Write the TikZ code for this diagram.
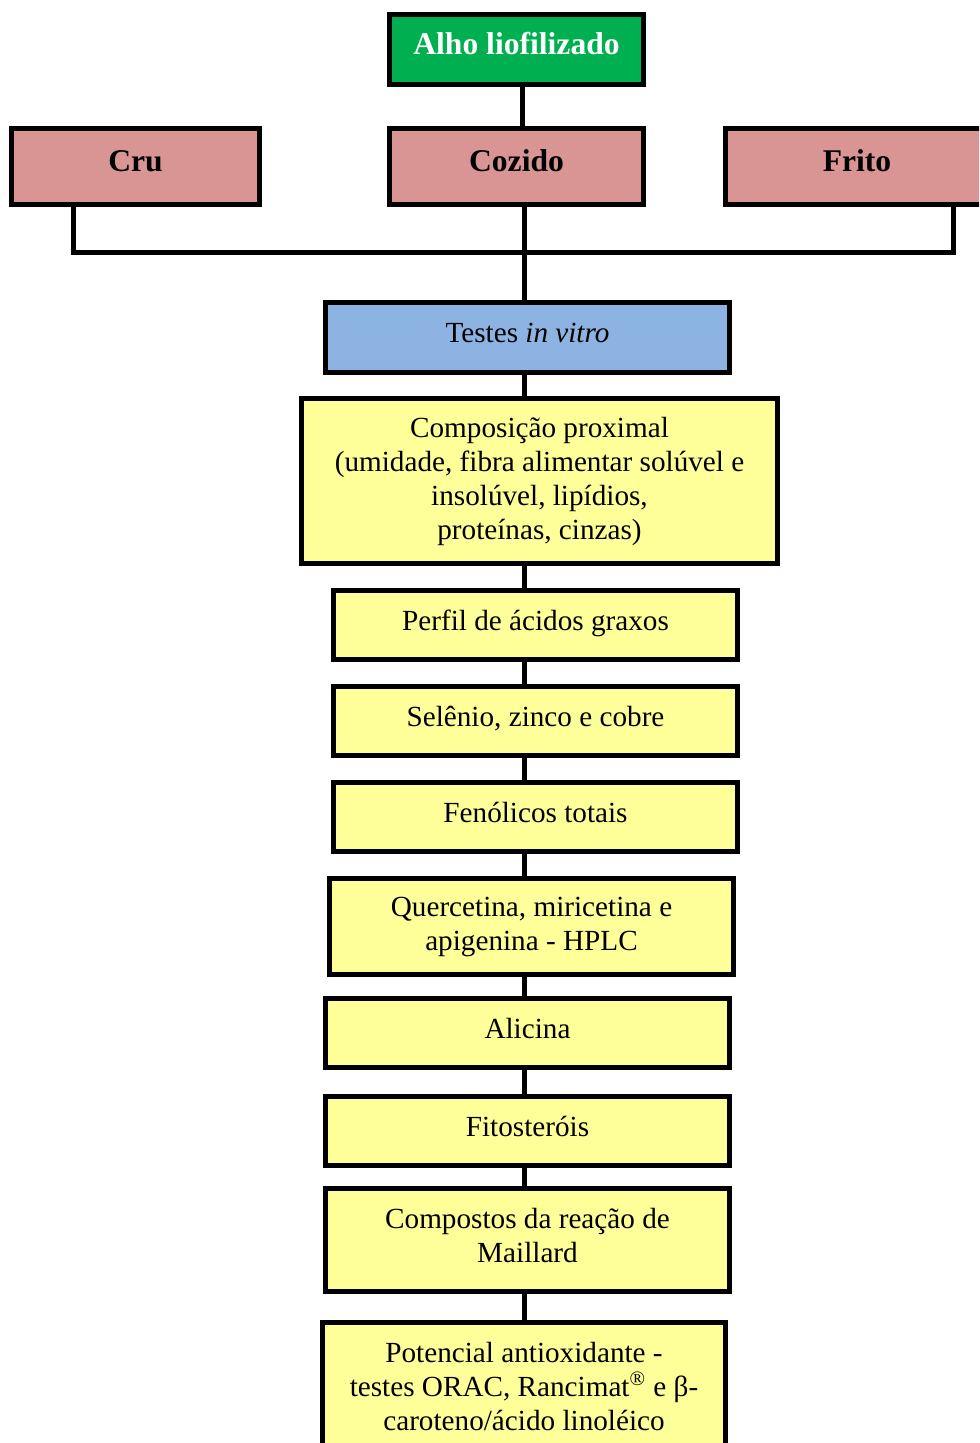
\documentclass[tikz,border=0pt]{standalone}
\usepackage{fontspec}
\setmainfont{Liberation Serif}
\usetikzlibrary{calc}
\definecolor{rootgreen}{HTML}{00B050}
\definecolor{prepred}{HTML}{D99594}
\definecolor{testblue}{HTML}{8DB3E2}
\definecolor{stepyellow}{HTML}{FFFF99}
\tikzset{
  frame/.style={draw=black, line width=2.75pt, rectangle, inner sep=2pt, align=center,
    font=\fontsize{14.6}{17}\selectfont},
  oneline/.style={text height=10pt, text depth=5pt},
  headbox/.style={frame, fill=rootgreen, text=white, minimum width=127pt, minimum height=35pt,
    font=\fontsize{15.8}{18}\selectfont\bfseries, text height=10.8pt, text depth=5.5pt},
  prepbox/.style={frame, fill=prepred, minimum height=38pt,
    font=\fontsize{15.8}{18}\selectfont\bfseries, text height=10.8pt, text depth=5.5pt},
  testbox/.style={frame, fill=testblue, minimum width=202pt, minimum height=35pt, oneline},
  stepbox/.style={frame, fill=stepyellow, minimum width=202pt},
  link/.style={draw=black, line width=2.5pt},
}
\begin{document}
\begin{tikzpicture}[x=0.5pt, y=-0.5pt]
\clip (0,0) rectangle (979,1443);

% top of the tree
\node[headbox] (alho) at (516.5,49.5) {Alho liofilizado};
\node[prepbox, minimum width=124pt] (cru) at (135.5,166.5) {Cru};
\node[prepbox, minimum width=127pt] (cozido) at (516.5,166.5) {Cozido};
\node[prepbox, minimum width=131.5pt] (frito) at (857,166.5) {Frito};

% column of analyses
\node[testbox] (testes) at (527.5,337.5) {Testes \textit{in vitro}};
\node[stepbox, minimum width=238pt, minimum height=82.5pt] (comp) at (539.5,481)
  {Composição proximal\\(umidade, fibra alimentar solúvel e\\insolúvel, lipídios,\\proteínas, cinzas)};
\node[stepbox, oneline, minimum height=34.5pt] (perfil) at (535.5,625) {Perfil de ácidos graxos};
\node[stepbox, oneline, minimum height=34.5pt] (minerais) at (535.5,721) {Selênio, zinco e cobre};
\node[stepbox, oneline, minimum height=34.5pt] (fenolicos) at (535.5,817) {Fenólicos totais};
\node[stepbox, minimum height=48pt] (flavonoides) at (531.5,926.5) {Quercetina, miricetina e\\apigenina - HPLC};
\node[stepbox, oneline, minimum height=34.5pt] (alicina) at (527.5,1033) {Alicina};
\node[stepbox, oneline, minimum height=34.5pt] (fito) at (527.5,1131) {Fitosteróis};
\node[stepbox, text depth=5pt, minimum height=51.5pt] (maillard) at (527.5,1240) {Compostos da reação de\\Maillard};
\node[stepbox, text depth=4pt, minimum width=201.5pt, minimum height=67.5pt] (antiox) at (524,1390)
  {Potencial antioxidante -\\testes ORAC, Rancimat\textsuperscript{\textregistered} e β-\\caroteno/ácido linoléico};

% guide coordinates for the connectors
\coordinate (spine) at (524,0);
\coordinate (topspine) at (522.5,0);
\coordinate (busL) at (73,253);
\coordinate (busR) at (953,253);

% connectors
\draw[link, line width=2.9pt] (alho.south -| topspine) -- (cozido.north -| topspine);
\draw[link] (cru.south -| busL) -- (busL) -- (busR) -- (frito.south -| busR);
\draw[link] (cozido.south -| spine) -- (testes.north -| spine);
\foreach \a/\b in {testes/comp, comp/perfil, perfil/minerais, minerais/fenolicos,
                   fenolicos/flavonoides, flavonoides/alicina, alicina/fito,
                   fito/maillard, maillard/antiox}
  \draw[link] (\a.south -| spine) -- (\b.north -| spine);
\end{tikzpicture}
\end{document}
